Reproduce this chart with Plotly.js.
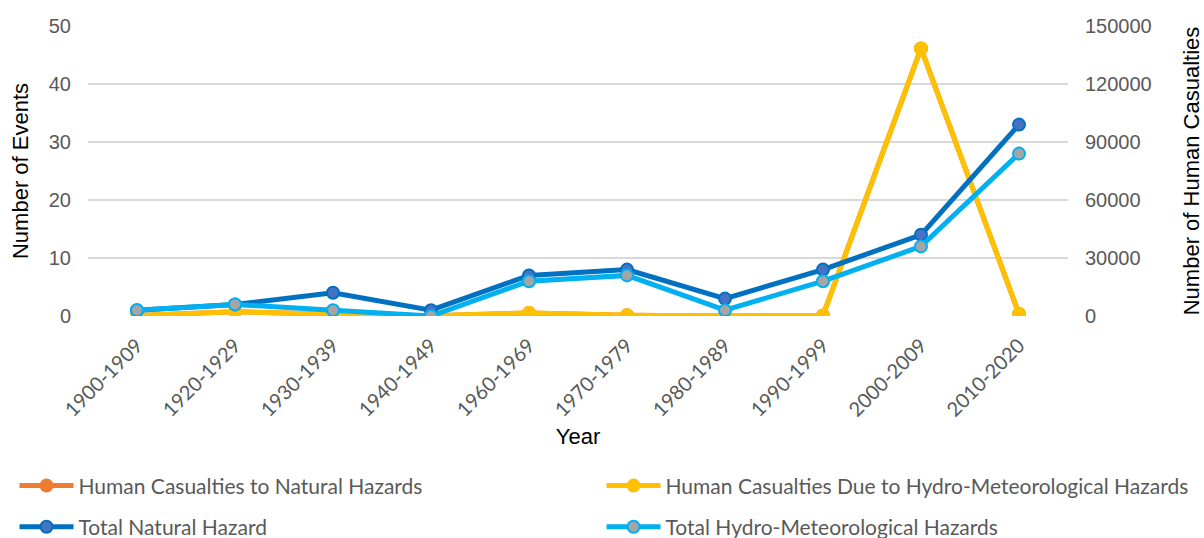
<!DOCTYPE html>
<html>
<head>
<meta charset="utf-8">
<script src="https://cdn.plot.ly/plotly-3.0.1.min.js"></script>
<style>html,body{margin:0;padding:0;background:#fff;}#chart{width:1204px;height:538px;}</style>
</head>
<body>
<div id="chart"></div>
<script>
var decades = ["1900-1909","1920-1929","1930-1939","1940-1949","1960-1969","1970-1979","1980-1989","1990-1999","2000-2009","2010-2020"];
var casualtiesNatural = [300, 2200, 900, 100, 1600, 400, 0, 300, 138400, 1100];
var casualtiesHydro = [300, 2200, 900, 100, 1600, 400, 0, 300, 138400, 1100];
var totalNatural = [1, 2, 4, 1, 7, 8, 3, 8, 14, 33];
var totalHydro = [1, 2, 1, 0, 6, 7, 1, 6, 12, 28];
var yLeftTicks = [0, 10, 20, 30, 40, 50];
var yRightTicks = [0, 30000, 60000, 90000, 120000, 150000];

var gray = "#595959";
var traces = [
  {x: decades, y: casualtiesNatural, name: "Human Casualties to Natural Hazards", yaxis: "y2", legend: "legend",
   mode: "lines+markers", line: {color: "#ED7D31", width: 5}, marker: {size: 12, color: "#ED7D31", line: {color: "#ED7D31", width: 2}}},
  {x: decades, y: casualtiesHydro, name: "Human Casualties Due to Hydro-Meteorological Hazards", yaxis: "y2", legend: "legend2",
   mode: "lines+markers", line: {color: "#FFC000", width: 5}, marker: {size: 12, color: "#FFC000", line: {color: "#FFC000", width: 2}}},
  {x: decades, y: totalNatural, name: "Total Natural Hazard", yaxis: "y", legend: "legend3",
   mode: "lines+markers", line: {color: "#0070C0", width: 5}, marker: {size: 12, color: "#4472C4", line: {color: "#0070C0", width: 2}}},
  {x: decades, y: totalHydro, name: "Total Hydro-Meteorological Hazards", yaxis: "y", legend: "legend4",
   mode: "lines+markers", line: {color: "#00B0F0", width: 5}, marker: {size: 12, color: "#A5A5A5", line: {color: "#00B0F0", width: 2}}}
];

function leg(x, y) {
  return {
    orientation: "h", xanchor: "left", yanchor: "middle", x: x, y: y,
    font: {family: "Lato, 'Liberation Sans', sans-serif", size: 21, color: gray},
    bgcolor: "rgba(0,0,0,0)", itemwidth: 54
  };
}
var axisFont = "'Liberation Sans', Arial, sans-serif";

var layout = {
  width: 1204, height: 538,
  margin: {l: 88, r: 136, t: 26, b: 222, autoexpand: false},
  paper_bgcolor: "#fff", plot_bgcolor: "#fff",
  showlegend: true,
  xaxis: {
    type: "category", range: [-0.5, 9.5], showgrid: false, zeroline: false, showline: false,
    tickangle: -45, ticks: "", ticklabelstandoff: 13, automargin: false,
    tickfont: {family: "Lato, 'Liberation Sans', sans-serif", size: 20, color: gray},
    title: {text: "Year", font: {family: axisFont, size: 22, color: "#000"}, standoff: 8}
  },
  yaxis: {
    range: [0, 50], tickvals: yLeftTicks, showgrid: true, gridcolor: "#D9D9D9", gridwidth: 2,
    zeroline: false, showline: false, ticks: "", ticklabelstandoff: 16, automargin: false,
    overlaying: "y2", side: "left",
    tickfont: {family: axisFont, size: 20, color: gray},
    title: {text: "Number of Events", font: {family: axisFont, size: 22, color: "#000"}, standoff: 14}
  },
  yaxis2: {
    range: [0, 150000], tickvals: yRightTicks, tickformat: "d", side: "right", showgrid: false,
    zeroline: false, showline: false, ticks: "", ticklabelstandoff: 16, automargin: false,
    tickfont: {family: axisFont, size: 20, color: gray},
    title: {text: "Number of Human Casualties", font: {family: axisFont, size: 22, color: "#000"}, standoff: 32}
  },
  legend: leg(-0.075, -0.586),
  legend2: leg(0.524, -0.586),
  legend3: leg(-0.075, -0.728),
  legend4: leg(0.524, -0.728)
};

Plotly.newPlot("chart", traces, layout, {displayModeBar: false, staticPlot: true});
</script>
</body>
</html>
